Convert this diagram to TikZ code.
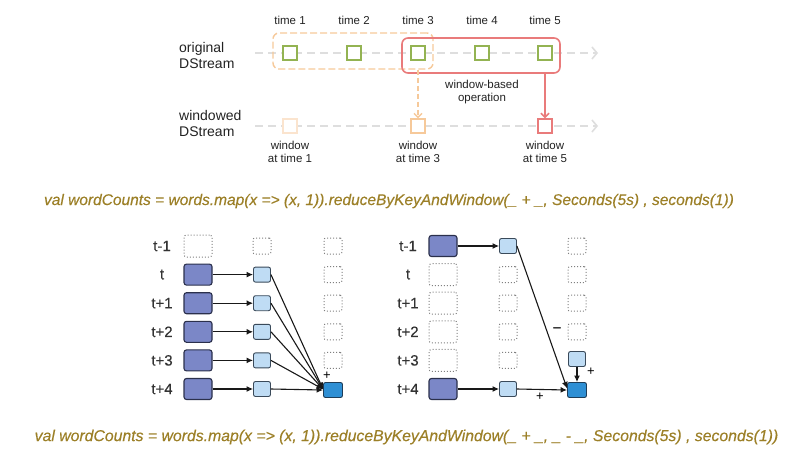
\documentclass[tikz,border=0pt]{standalone}
\usepackage{fontspec}
\setmainfont{Liberation Sans}
\newfontfamily\heavyfont[FakeBold=0.35]{Liberation Sans}
\usetikzlibrary{arrows.meta,calc}
\definecolor{gsqc}{HTML}{93B352}
\definecolor{orc}{HTML}{F6C99A}
\definecolor{palec}{HTML}{FBE4CE}
\definecolor{redc}{HTML}{E97B7B}
\definecolor{greyl}{HTML}{DEDEDE}
\definecolor{codec}{HTML}{9C8028}
\definecolor{bigc}{HTML}{7B87C7}
\definecolor{bigd}{HTML}{2B304C}
\definecolor{smc}{HTML}{BFDCF4}
\definecolor{smd}{HTML}{3A4A5A}
\definecolor{resc}{HTML}{2E8FD4}
\definecolor{resd}{HTML}{1E3D58}
\definecolor{txtc}{HTML}{222222}
\tikzset{
  small/.style={font=\fontsize{11.5}{13}\selectfont, text=txtc, inner sep=0pt, align=center},
  large/.style={font=\fontsize{14}{16}\selectfont, text=txtc, inner sep=0pt, align=left},
  rowlbl/.style={font=\heavyfont\fontsize{15}{16}\selectfont, text=black!80, inner sep=0pt},
  gsq/.style={draw=gsqc, fill=white, line width=1.4pt, minimum size=14pt, inner sep=0pt},
  wsq/.style={draw=#1, fill=white, line width=1.4pt, minimum size=14pt, inner sep=0pt},
  gline/.style={draw=greyl, line width=1.6pt, dash pattern=on 8pt off 5pt, -{Straight Barb[length=5pt,width=12pt,line width=1.6pt]}},
  owin/.style={draw=orc, line width=1.4pt, dash pattern=on 7pt off 3pt, rounded corners=6pt, minimum width=160pt, minimum height=36pt, inner sep=0pt},
  rwin/.style={draw=redc, line width=1.6pt, rounded corners=6pt, minimum width=158pt, minimum height=35pt, inner sep=0pt},
  oarrow/.style={draw=orc, line width=1.4pt, dash pattern=on 5pt off 3pt, -{Straight Barb[length=4pt,width=8pt,line width=1.4pt]}},
  rarrow/.style={draw=redc, line width=1.6pt, -{Straight Barb[length=4pt,width=8pt,line width=1.6pt]}},
  code/.style={font=\heavyfont\itshape\fontsize{15.5}{17}\selectfont, text=codec, inner sep=0pt},
  bigbox/.style={draw=bigd, fill=bigc, line width=1.1pt, rounded corners=2.5pt, minimum width=28pt, minimum height=21pt, inner sep=0pt},
  bigdot/.style={draw=black!50, dotted, line width=1pt, rounded corners=2.5pt, minimum width=28pt, minimum height=22pt, inner sep=0pt},
  smbox/.style={draw=smd, fill=smc, line width=0.9pt, rounded corners=2pt, minimum width=17pt, minimum height=15pt, inner sep=0pt},
  smdot/.style={draw=black!50, dotted, line width=1pt, rounded corners=2pt, minimum width=18pt, minimum height=16pt, inner sep=0pt},
  resbox/.style={draw=resd, fill=resc, line width=0.9pt, rounded corners=2pt, minimum width=19pt, minimum height=15pt, inner sep=0pt},
  arr/.style={draw=black!90, line width=1.1pt, -{Latex[length=6.5pt,width=6pt]}},
  sign/.style={font=\fontsize{13}{13}\selectfont, text=black, inner sep=0pt},
}
\begin{document}
\begin{tikzpicture}[x=1pt,y=-1pt]
\useasboundingbox (0,0) rectangle (792,453);
% ---------------- top diagram ----------------
\foreach \i/\x in {1/290,2/354,3/418,4/482,5/545}{
  \node[small] (tl\i) at (\x,20) {time \i};
}
\coordinate (l1s) at (255,53);
\coordinate (l1e) at (598,53);
\coordinate (l2s) at (255,126);
\coordinate (l2e) at (598,126);
\draw[gline] (l1s) -- (l1e);
\draw[gline] (l2s) -- (l2e);
\node[owin] (ow) at (353,51) {};
\node[rwin] (rw) at (481,55.5) {};
\foreach \i/\x in {1/290,2/354,3/418,4/482,5/545}{
  \node[gsq] (g\i) at (\x,53) {};
}
\node[wsq=palec] (w1) at (290,126) {};
\node[wsq=orc] (w3) at (418,126) {};
\node[wsq=redc] (w5) at (545,126) {};
\draw[oarrow] (ow.south -| w3.north) -- (w3.north);
\draw[rarrow] (rw.south -| w5.north) -- (w5.north);
\node[large, anchor=west] (orig) at (179,55) {original\\DStream};
\node[large, anchor=west] (wind) at (179,123.5) {windowed\\DStream};
\node[small] (wbo) at (482,92.5) {window-based\\operation};
\node[small] (wl1) at (290,151.5) {window\\at time 1};
\node[small] (wl3) at (418,151.5) {window\\at time 3};
\node[small] (wl5) at (545,151.5) {window\\at time 5};
% ---------------- code lines ----------------
\node[code] (code1) at (389,201) {val wordCounts = words.map(x => (x, 1)).reduceByKeyAndWindow(\_ + \_, Seconds(5s) , seconds(1))};
\node[code, font=\heavyfont\itshape\fontsize{15.8}{17}\selectfont] (code2) at (406.5,437) {val wordCounts = words.map(x => (x, 1)).reduceByKeyAndWindow(\_ + \_, \_ - \_, Seconds(5s) , seconds(1))};
% ---------------- bottom left ----------------
\foreach \k/\lab/\y in {0/t-1/246,1/t/274.6,2/t+1/303.2,3/t+2/331.8,4/t+3/360.4,5/t+4/389}{
  \node[rowlbl] (la\k) at (162,\y) {\lab};
  \node[rowlbl] (lb\k) at (408,\y) {\lab};
}
\node[bigdot] (ab0) at (198,246) {};
\foreach \k/\y in {1/274.6,2/303.2,3/331.8,4/360.4,5/389}{
  \node[bigbox] (ab\k) at (198,\y) {};
  \node[smbox] (as\k) at (262,\y) {};
}
\node[smdot] (as0) at (262,246) {};
\foreach \k/\y in {0/246,1/274.6,2/303.2,3/331.8,4/360.4}{
  \node[smdot] (ar\k) at (333,\y) {};
}
\node[resbox] (ares) at (333,390) {};
\foreach \k in {1,...,5}{
  \draw[arr] (ab\k.east) -- (as\k.west);
}
\foreach \k in {1,...,4}{
  \draw[arr] (as\k.east) -- ($(ares.north west)!0.45!(ares.south west)$);
}
\draw[arr] (as5.east) -- (ares.west);
\node[sign] (aplus) at (327,375.5) {+};
% ---------------- bottom right ----------------
\node[bigbox] (bb0) at (443,246) {};
\node[smbox] (bs0) at (508,246) {};
\foreach \k/\y in {1/274.6,2/303.2,3/331.8,4/360.4}{
  \node[bigdot] (bb\k) at (443,\y) {};
  \node[smdot] (bs\k) at (508,\y) {};
}
\node[bigbox] (bb5) at (443,389) {};
\node[smbox] (bs5) at (508,389) {};
\foreach \k/\y in {0/246,1/274.6,2/303.2,3/331.8}{
  \node[smdot] (br\k) at (577,\y) {};
}
\node[smbox] (br4) at (577,359) {};
\node[resbox] (bres) at (577,390) {};
\draw[arr] (bb0.east) -- (bs0.west);
\draw[arr] (bb5.east) -- (bs5.west);
\draw[arr] (bs0.east) -- ($(bres.north west)!0.4!(bres.south west)$);
\draw[arr] (bs5.east) -- (bres.west);
\draw[arr] (br4.south) -- (bres.north);
\node[sign, font=\heavyfont\fontsize{15}{15}\selectfont] (bminus) at (557,330) {\textminus};
\node[sign] (bplus1) at (540,396.5) {+};
\node[sign] (bplus2) at (591,372) {+};
\end{tikzpicture}
\end{document}
